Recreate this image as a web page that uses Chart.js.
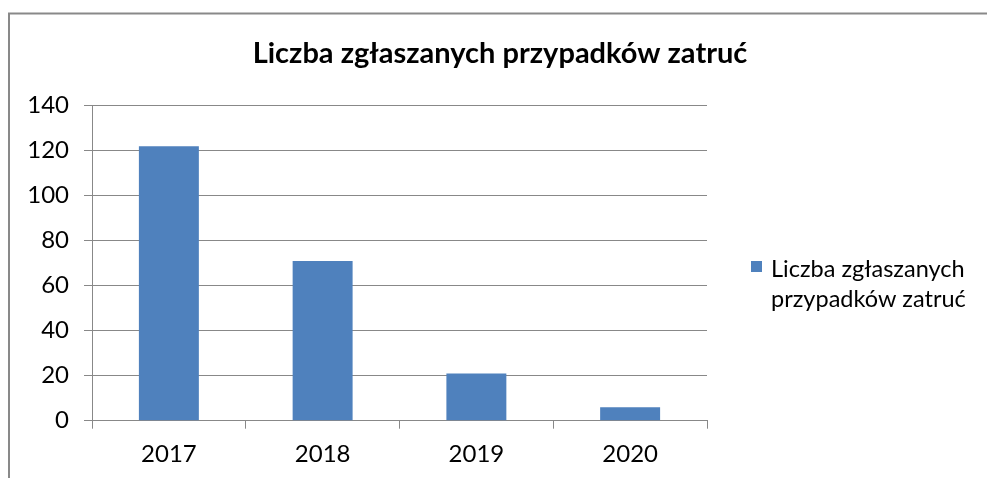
<!DOCTYPE html>
<html>
<head>
<meta charset="utf-8">
<script src="https://cdn.jsdelivr.net/npm/chart.js@4/dist/chart.umd.min.js"></script>
<style>
html,body{margin:0;padding:0;background:#fff;}
#wrap{position:relative;width:987px;height:478px;}
</style>
</head>
<body>
<div id="wrap"><canvas id="c" width="987" height="478"></canvas></div>
<script>
const categories = ['2017', '2018', '2019', '2020'];
const values = [122, 71, 21, 6];
const seriesName = 'Liczba zgłaszanych przypadków zatruć';
const legendLines = ['Liczba zgłaszanych', 'przypadków zatruć'];
const titleText = 'Liczba zgłaszanych przypadków zatruć';
const yTicks = [0, 20, 40, 60, 80, 100, 120, 140];

const FONT = 'Lato, "Open Sans", sans-serif';
const GRID = '#888888';
const BAR = '#4F81BD';

const framePlugin = {
  id: 'frame',
  beforeDraw(chart) {
    const ctx = chart.ctx;
    ctx.save();
    ctx.fillStyle = '#ffffff';
    ctx.fillRect(0, 0, chart.width, chart.height);
    ctx.strokeStyle = '#898989';
    ctx.lineWidth = 2;
    ctx.beginPath();
    ctx.moveTo(9, chart.height);
    ctx.lineTo(9, 13.5);
    ctx.lineTo(chart.width, 13.5);
    ctx.stroke();
    ctx.restore();
  }
};

const legendPlugin = {
  id: 'sideLegend',
  afterDraw(chart) {
    const ctx = chart.ctx;
    const ds = chart.data.datasets[0];
    ctx.save();
    ctx.fillStyle = ds.backgroundColor;
    ctx.fillRect(751, 261, 11, 11);
    ctx.fillStyle = '#000';
    ctx.font = '23.5px ' + FONT;
    ctx.textBaseline = 'alphabetic';
    ctx.textAlign = 'left';
    ctx.fillText(legendLines[0], 771, 277);
    ctx.fillText(legendLines[1], 771, 307);
    ctx.restore();
  }
};

new Chart(document.getElementById('c'), {
  type: 'bar',
  data: {
    labels: categories,
    datasets: [{
      label: seriesName,
      data: values,
      backgroundColor: BAR,
      borderWidth: 0,
      barPercentage: 0.39,
      categoryPercentage: 1,
      yAxisID: 'y'
    }]
  },
  options: {
    responsive: false,
    animation: false,
    devicePixelRatio: 1,
    layout: { padding: { left: 13, right: 0, top: 0, bottom: 0 } },
    plugins: {
      legend: { display: false },
      tooltip: { enabled: false },
      title: {
        display: true,
        text: titleText,
        color: '#000',
        font: { family: FONT, size: 29, weight: 'bold', lineHeight: 1.2 },
        padding: { top: 36.6, bottom: 34.3 }
      }
    },
    scales: {
      x: {
        offset: true,
        grid: { display: true, drawOnChartArea: false, drawTicks: true, tickLength: 8, color: GRID, lineWidth: 1, offset: true },
        border: { display: true, color: GRID, width: 1 },
        ticks: { color: '#000', font: { family: FONT, size: 24 }, padding: 11, maxRotation: 0 },
        afterFit(s) { s.height = 57.3; }
      },
      y: {
        position: 'left',
        min: 0, max: 140,
        afterBuildTicks(s) { s.ticks = yTicks.map(v => ({ value: v })); },
        grid: { color: GRID, lineWidth: 1, tickLength: 8, drawTicks: true },
        border: { display: true, color: GRID, width: 1 },
        ticks: { color: '#000', font: { family: FONT, size: 24 }, padding: 15 },
        afterFit(s) { s.width = 79; }
      },
      yRight: {
        position: 'right',
        display: true,
        grid: { display: false, drawTicks: false },
        border: { display: false },
        ticks: { display: false },
        afterFit(s) { s.width = 280; }
      }
    }
  },
  plugins: [framePlugin, legendPlugin]
});
</script>
</body>
</html>
